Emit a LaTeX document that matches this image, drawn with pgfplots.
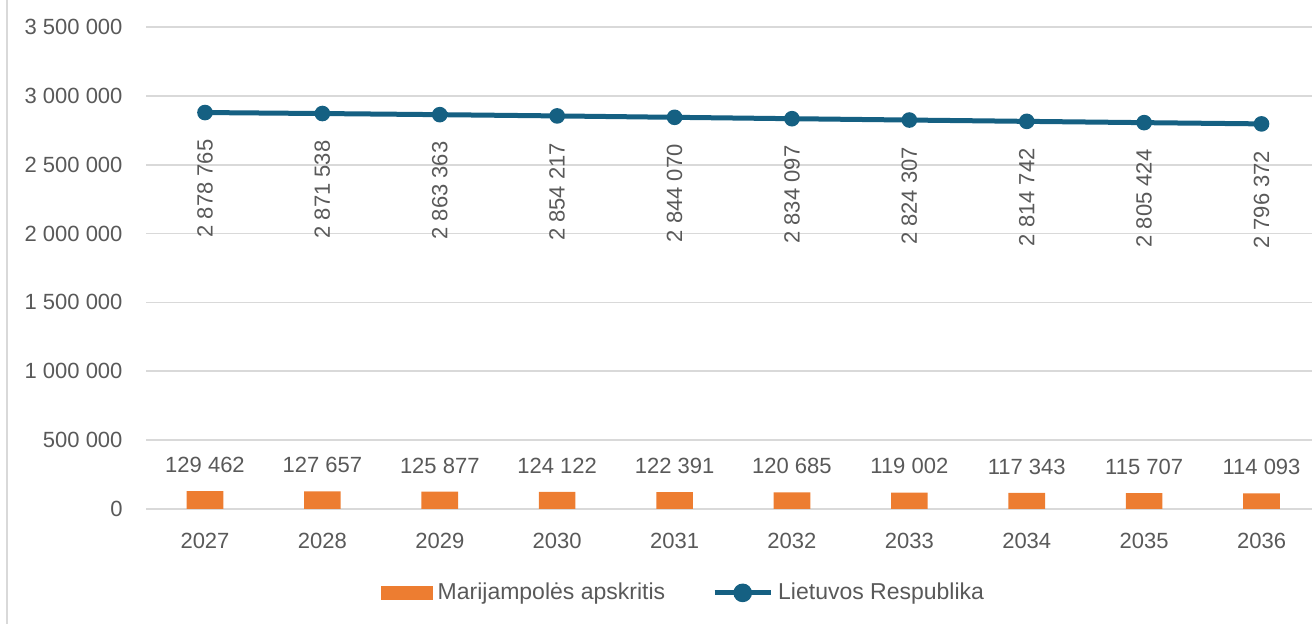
\documentclass[border=0pt]{standalone}
\usepackage{fontspec}
\setmainfont{Liberation Sans}
\usepackage{pgfplots}
\pgfplotsset{compat=1.18}
\definecolor{txt}{HTML}{595959}
\definecolor{gridc}{HTML}{D9D9D9}
\definecolor{barc}{HTML}{ED7D31}
\definecolor{lnc}{HTML}{156082}
\begin{document}
\begin{tikzpicture}
\begin{axis}[name=ax, at={(0,0)}, anchor=south west, scale only axis,
  width=582.85pt, height=241pt,
  xmin=2026.5, xmax=2036.43, ymin=0, ymax=3500000,
  scaled y ticks=false, scaled x ticks=false,
  xtick={2027,2028,2029,2030,2031,2032,2033,2034,2035,2036},
  xticklabels={2027,2028,2029,2030,2031,2032,2033,2034,2035,2036},
  ytick={0,500000,1000000,1500000,2000000,2500000,3000000,3500000},
  yticklabels={0,500 000,1 000 000,1 500 000,2 000 000,2 500 000,3 000 000,3 500 000},
  ymajorgrids, grid style={gridc, line width=0.8pt},
  axis line style={draw=none}, major tick length=0pt,
  tick label style={font=\fontsize{11}{13}\selectfont, text=txt},
  xticklabel style={inner sep=0pt, yshift=-12pt},
  yticklabel style={inner sep=0pt, xshift=-11.7pt},
  clip=false,
  legend style={at={(0.462,-0.174)}, anchor=center, draw=none, fill=none,
    legend columns=2, font=\fontsize{11.5}{13}\selectfont, text=txt,
    nodes={inner xsep=2.5pt},
    /tikz/every even column/.append style={column sep=21pt}},
  legend cell align=left,
]
\addplot[ybar, bar width=18.3pt, fill=barc, draw=none,
  point meta=explicit symbolic, nodes near coords,
  every node near coord/.append style={font=\fontsize{11}{13}\selectfont, text=txt, anchor=south, inner sep=0pt, yshift=9pt},
  legend image code/.code={\fill[barc] (0pt,-3.5pt) rectangle (26pt,3.5pt);}]
coordinates {
(2027,129462) [129 462]
(2028,127657) [127 657]
(2029,125877) [125 877]
(2030,124122) [124 122]
(2031,122391) [122 391]
(2032,120685) [120 685]
(2033,119002) [119 002]
(2034,117343) [117 343]
(2035,115707) [115 707]
(2036,114093) [114 093]
};
\addlegendentry{Marijampolės apskritis}
\addplot[lnc, line width=2.5pt, mark=*, mark size=3.4pt, mark options={line width=1pt, fill=lnc},
  point meta=explicit symbolic, nodes near coords,
  every node near coord/.append style={font=\fontsize{11}{13}\selectfont, text=txt, rotate=90, anchor=east, inner xsep=13pt, inner ysep=0pt},
  legend image code/.code={\draw[lnc, line width=2.5pt] (0pt,0pt) -- (28pt,0pt); \fill[lnc] (14pt,0pt) circle (3.4pt);}]
coordinates {
(2027,2878765) [2 878 765]
(2028,2871538) [2 871 538]
(2029,2863363) [2 863 363]
(2030,2854217) [2 854 217]
(2031,2844070) [2 844 070]
(2032,2834097) [2 834 097]
(2033,2824307) [2 824 307]
(2034,2814742) [2 814 742]
(2035,2805424) [2 805 424]
(2036,2796372) [2 796 372]
};
\addlegendentry{Lietuvos Respublika}
\end{axis}
\draw[gridc, line width=0.75pt] ([shift={(-69.65pt,-57.5pt)}]ax.south west) -- ([shift={(-69.65pt,13.5pt)}]ax.north west);
\pgfresetboundingbox
\path ([shift={(-73.15pt,-57.5pt)}]ax.south west) rectangle ([yshift=13.5pt]ax.north east);
\end{tikzpicture}
\end{document}
